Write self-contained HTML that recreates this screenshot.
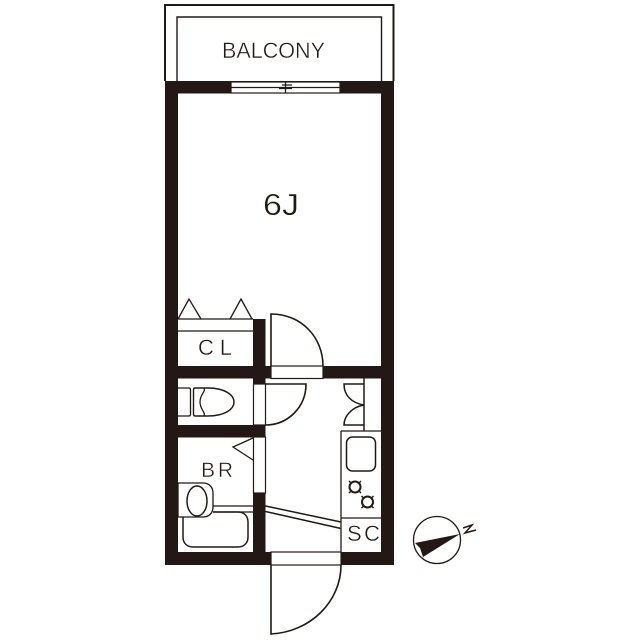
<!DOCTYPE html>
<html><head><meta charset="utf-8"><style>
html,body{margin:0;padding:0;background:#fff}
svg{display:block}
text{font-family:"Liberation Sans",sans-serif;fill:#231815;stroke:#fff;stroke-width:.4px}
</style></head><body>
<svg width="640" height="640" viewBox="0 0 640 640" xmlns="http://www.w3.org/2000/svg">
<g fill="none" stroke="#231815" stroke-width="1.4">
<path d="M165 81V5H393.500V81" stroke-width="2"/>
<path d="M177 81V17H381.500V81"/>
</g>
<g fill="#231815">
<rect x="165" y="81" width="229" height="12.500"/>
<rect x="165" y="81" width="13" height="484"/>
<rect x="381" y="81" width="13" height="484"/>
<rect x="165" y="552" width="229" height="13"/>
<rect x="178" y="366" width="93" height="12.500"/>
<rect x="323" y="366" width="58" height="12.500"/>
<rect x="253" y="319" width="12.500" height="65"/>
<rect x="178" y="425" width="87.500" height="12.500"/>
<rect x="253" y="493" width="12.500" height="60"/>
</g>
<!-- openings -->
<g fill="#fff" stroke="#231815" stroke-width="1.200">
<rect x="231" y="82" width="109" height="11"/>
<rect x="271" y="366" width="52" height="12.500"/>
<rect x="271" y="552" width="70" height="13"/>
<rect x="253.500" y="384" width="12" height="41"/>
<rect x="253.500" y="437" width="12" height="56"/>
</g>
<g fill="none" stroke="#231815" stroke-width="1.300">
<path d="M231 87.500H340M279 88.500H292M285.500 82V93M282 85H292"/>
<!-- closet -->
<path d="M178 319H253M178 331H253"/>
<path d="M178 319L189 299L201 319M230 319L241 299L252 319"/>
<!-- doors -->
<path d="M271 366V314C301 314 323 337 323 366" stroke-width="1.600"/>
<path d="M265.500 384H306C306 407 288 425 265.500 425" stroke-width="1.600"/>
<path d="M271 565V634C310 632 341 602 341 565" stroke-width="1.600"/>
<!-- toilet -->
<path d="M178 388H189C190 388 190.500 389 190.500 390V414C190.500 415 190 416 189 416H178"/>
<path d="M195 388H208C225 388 234 395 234 402C234 409 225 416 208 416H195C194 416 193.500 415 193.500 414V390C193.500 389 194 388 195 388Z" stroke-width="1.400"/>
<path d="M204 388C206 392 200 394 200 402C200 410 206 412 204 416"/>
<!-- bath -->
<path d="M253 438L233 447L253 460"/>
<path d="M213 506H253M213 512H253"/>
<path d="M213 512H238C244 512 248 516 248 522V537C248 543 244 547 238 547H193C187 547 183 543 183 537V517" stroke-width="1.500"/>
<path d="M178 483H203C209 483 213 487 213 493V507C213 513 209 517 203 517H178Z" fill="#fff"/>
<ellipse cx="197" cy="501" rx="10" ry="15" stroke-width="1.500"/>
<!-- shoe cabinet / kitchen -->
<path d="M364 378V431" stroke-width="1.500"/>
<path d="M364 384H344C344 396 352 403 364 405C352 407 344 416 344 425H364" stroke-width="1.500"/>
<path d="M341 431H381M341 431V552M341 518H381"/>
<rect x="346.500" y="437" width="29" height="34" rx="6" stroke-width="1.500"/>
<circle cx="355" cy="487" r="5.500" stroke-width="2"/>
<circle cx="367.500" cy="502" r="5.500" stroke-width="2"/>
<path d="M349 481l1.500 1.500M361 481l-1.500 1.500M349 493l1.500-1.500M361 493l-1.500-1.500M361.500 496l1.500 1.500M373.500 496l-1.500 1.500M361.500 508l1.500-1.500M373.500 508l-1.500-1.500" stroke-width="1.500"/>
<!-- entry partition -->
<path d="M265.500 506L341 522M265.500 511.500L341 528.500" stroke-width="1.500"/>
<!-- compass -->
<circle cx="437" cy="540" r="23.500" stroke-width="1.300"/>
<path d="M463 528L472 525L465 533L476 530" stroke-width="1.500"/>
</g>
<path d="M460 534L415 543L420 548L423 557Z" fill="#231815"/>
<!-- labels -->
<text x="222" y="58" font-size="22" textLength="103" lengthAdjust="spacingAndGlyphs">BALCONY</text>
<text x="263" y="215" font-size="31" textLength="36" lengthAdjust="spacingAndGlyphs">6J</text>
<text x="198" y="355" font-size="22" textLength="34" lengthAdjust="spacing">CL</text>
<text x="201" y="477" font-size="21" textLength="32" lengthAdjust="spacing">BR</text>
<text x="347" y="541" font-size="22" textLength="33" lengthAdjust="spacing">SC</text>
</svg>
</body></html>
